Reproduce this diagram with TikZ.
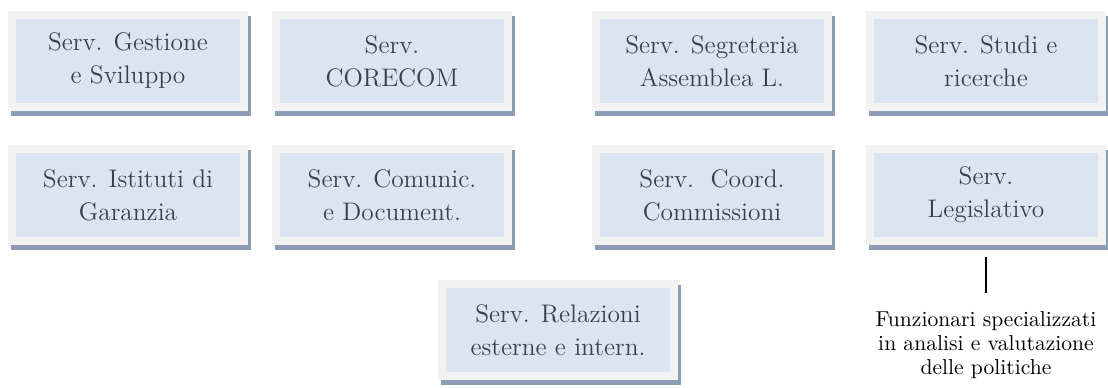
\documentclass[tikz,border=0pt]{standalone}
\usepackage{tikz}
\usetikzlibrary{positioning}
\definecolor{framegray}{HTML}{F2F2F2}
\definecolor{boxblue}{HTML}{DBE5F1}
\definecolor{shadowblue}{HTML}{8C9BB6}
\definecolor{textgray}{HTML}{3C3F48}

\begin{document}
\begin{tikzpicture}[x=0.5pt, y=-0.5pt,
    servbox/.style={draw=framegray, line width=4pt, fill=boxblue,
        minimum width=116pt, minimum height=46pt, inner sep=0pt,
        align=center, text=textgray, font=\fontsize{12.7}{16.5}\selectfont,
        preaction={draw=shadowblue, fill=shadowblue,
            transform canvas={shift={(1.5pt,-2.5pt)}}}},
    note/.style={align=center, inner sep=1pt, font=\fontsize{10.8}{12}\selectfont}]
    \useasboundingbox (0,0) rectangle (1108,387);

    % First row of services
    \node[servbox] (ges) at (128,61) {Serv. Gestione\\e Sviluppo};
    \node[servbox] (cor) at (392,61) {Serv.\\CORECOM};
    \node[servbox] (seg) at (712,61) {Serv. Segreteria\\Assemblea L.};
    \node[servbox] (stu) at (986,61) {Serv. Studi e\\ricerche};

    % Second row of services
    \node[servbox] (ist) at (128,195) {Serv. Istituti di\\Garanzia};
    \node[servbox] (com) at (392,195) {Serv. Comunic.\\e Document.};
    \node[servbox] (coo) at (712,195) {Serv.~~Coord.\\Commissioni};
    \node[servbox] (leg) at (986,195) {Serv.\\Legislativo};

    % Last box
    \node[servbox] (rel) at (558,330) {Serv. Relazioni\\esterne e intern.};

    % Note under the legislative service
    \node[note, anchor=north] (fun) at (986,309) {Funzionari specializzati\\in analisi e valutazione\\delle politiche};
    \draw[line width=1pt] ([yshift=-6pt]leg.south) -- ([yshift=8pt]fun.north);
\end{tikzpicture}
\end{document}
